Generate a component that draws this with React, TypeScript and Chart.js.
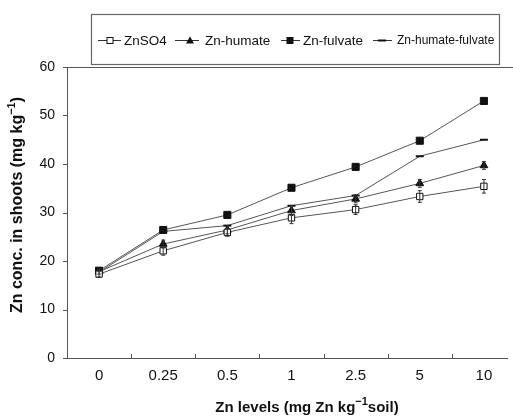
import React, { useEffect, useRef } from 'react';
import { Chart, registerables } from 'chart.js';
Chart.register(...registerables);

const levels = ['0', '0.25', '0.5', '1', '2.5', '5', '10'];
const znso4 = [17.3, 22.1, 25.9, 28.9, 30.6, 33.3, 35.4];
const humate = [17.8, 23.5, 26.4, 30.4, 32.8, 36.0, 39.7];
const fulvate = [18.0, 26.4, 29.5, 35.1, 39.4, 44.8, 53.0];
const humFul = [17.7, 26.1, 27.3, 31.4, 33.5, 41.6, 45.0];
const znso4Err = [0.6, 0.9, 0.8, 1.2, 1.0, 1.2, 1.4];
const humateErr = [0.5, 0.8, 0.8, 1.0, 0.8, 0.8, 0.8];
const seriesNames = ['ZnSO4', 'Zn-humate', 'Zn-fulvate', 'Zn-humate-fulvate'];
const yTicks = [0, 10, 20, 30, 40, 50, 60];

const FONT = '"Liberation Sans", Arial, sans-serif';
const LINE = '#555';

function drawMarker(ctx: CanvasRenderingContext2D, style: string, x: number, y: number) {
  ctx.save();
  ctx.fillStyle = '#111';
  ctx.strokeStyle = '#111';
  ctx.lineWidth = 1;
  if (style === 'openSquare') {
    ctx.fillStyle = '#fff';
    ctx.fillRect(x - 3, y - 3, 6, 6);
    ctx.strokeRect(x - 3, y - 3, 6, 6);
  } else if (style === 'square') {
    ctx.fillRect(x - 3.5, y - 3.5, 7, 7);
  } else if (style === 'triangle') {
    ctx.beginPath();
    ctx.moveTo(x, y - 4);
    ctx.lineTo(x + 4, y + 3);
    ctx.lineTo(x - 4, y + 3);
    ctx.closePath();
    ctx.fill();
  } else if (style === 'dash') {
    ctx.lineWidth = 2;
    ctx.beginPath();
    ctx.moveTo(x - 4, y);
    ctx.lineTo(x + 4, y);
    ctx.stroke();
  }
  ctx.restore();
}

type Part = { t: string; sup?: boolean };
function drawRich(ctx: CanvasRenderingContext2D, parts: Part[], cx: number, cy: number, rot: number, size: number) {
  ctx.save();
  ctx.translate(cx, cy);
  ctx.rotate(rot);
  const big = `bold ${size}px ${FONT}`;
  const small = `bold ${Math.round(size * 0.7)}px ${FONT}`;
  let total = 0;
  parts.forEach((p) => {
    ctx.font = p.sup ? small : big;
    total += ctx.measureText(p.t).width;
  });
  let x = -total / 2;
  ctx.fillStyle = '#111';
  ctx.textBaseline = 'middle';
  ctx.textAlign = 'left';
  parts.forEach((p) => {
    ctx.font = p.sup ? small : big;
    ctx.fillText(p.t, x, p.sup ? -size * 0.4 : 0);
    x += ctx.measureText(p.t).width;
  });
  ctx.restore();
}

const markerStyles = ['openSquare', 'triangle', 'square', 'dash'];
const legendItems = [
  { x0: 98, x1: 121, mx: 110, tx: 124, fs: 13.5 },
  { x0: 175, x1: 199, mx: 190, tx: 205, fs: 13.5 },
  { x0: 281, x1: 300, mx: 290, tx: 303, fs: 13.5 },
  { x0: 373, x1: 392, mx: 382, tx: 397, fs: 12 },
];

const decorPlugin = {
  id: 'decor',
  afterDatasetsDraw(chart: any) {
    const ctx = chart.ctx as CanvasRenderingContext2D;
    const xs = chart.scales.x;
    const ys = chart.scales.y;
    const errs: (number[] | null)[] = [znso4Err, humateErr, null, null];
    ctx.save();
    ctx.strokeStyle = '#333';
    ctx.lineWidth = 1;
    chart.data.datasets.forEach((ds: any, di: number) => {
      const e = errs[di];
      if (!e) return;
      ds.data.forEach((pt: any, i: number) => {
        const px = xs.getPixelForValue(pt.x);
        const y1 = ys.getPixelForValue(pt.y - e[i]);
        const y2 = ys.getPixelForValue(pt.y + e[i]);
        ctx.beginPath();
        ctx.moveTo(px, y1); ctx.lineTo(px, y2);
        ctx.moveTo(px - 2, y1); ctx.lineTo(px + 2, y1);
        ctx.moveTo(px - 2, y2); ctx.lineTo(px + 2, y2);
        ctx.stroke();
      });
    });
    ctx.restore();
  },
  afterDraw(chart: any) {
    const ctx = chart.ctx as CanvasRenderingContext2D;
    const xs = chart.scales.x;
    const ys = chart.scales.y;
    const area = chart.chartArea;
    ctx.save();
    ctx.strokeStyle = LINE;
    ctx.lineWidth = 1;
    ctx.beginPath();
    ctx.moveTo(Math.round(area.left) + 0.5, Math.round(area.top) + 0.5);
    ctx.lineTo(chart.width, Math.round(area.top) + 0.5);
    ctx.stroke();
    for (let i = 0; i < levels.length - 1; i++) {
      const px = Math.round(xs.getPixelForValue(i + 0.5)) + 0.5;
      ctx.beginPath();
      ctx.moveTo(px, area.bottom);
      ctx.lineTo(px, area.bottom - 4);
      ctx.stroke();
    }
    yTicks.forEach((v) => {
      const py = Math.round(ys.getPixelForValue(v)) + 0.5;
      ctx.beginPath();
      ctx.moveTo(area.left, py);
      ctx.lineTo(area.left - 4, py);
      ctx.stroke();
    });
    // legend
    ctx.strokeStyle = '#666';
    ctx.lineWidth = 1.2;
    ctx.strokeRect(91.5, 14.5, 408, 50);
    const ly = 40;
    legendItems.forEach((it, i) => {
      ctx.strokeStyle = '#333';
      ctx.lineWidth = 1;
      ctx.beginPath();
      ctx.moveTo(it.x0, ly + 0.5);
      ctx.lineTo(it.x1, ly + 0.5);
      ctx.stroke();
      drawMarker(ctx, markerStyles[i], it.mx, ly + 0.5);
      ctx.fillStyle = '#111';
      ctx.font = `${it.fs}px ${FONT}`;
      ctx.textBaseline = 'middle';
      ctx.textAlign = 'left';
      ctx.fillText(seriesNames[i], it.tx, ly + 1);
    });
    ctx.restore();
    drawRich(ctx, [{ t: 'Zn levels (mg Zn kg' }, { t: '−1', sup: true }, { t: 'soil)' }], 307, 408, 0, 15);
    drawRich(ctx, [{ t: 'Zn conc. in shoots (mg kg' }, { t: '−1', sup: true }, { t: ')' }], 18, 205, -Math.PI / 2, 16);
  },
};

function mkDs(label: string, vals: number[], style: any, radius: number, fill: string, border: string, bw: number) {
  return {
    label,
    data: vals.map((v, i) => ({ x: i, y: v })),
    borderColor: LINE,
    borderWidth: 1,
    pointStyle: style,
    pointRadius: radius,
    pointBackgroundColor: fill,
    pointBorderColor: border,
    pointBorderWidth: bw,
    tension: 0,
  };
}

export default function App() {
  const ref = useRef<HTMLCanvasElement | null>(null);
  useEffect(() => {
    if (!ref.current) return;
    const chart = new Chart(ref.current, {
      type: 'line',
      data: {
        datasets: [
          mkDs(seriesNames[0], znso4, 'rect', 4.5, '#fff', '#111', 1),
          mkDs(seriesNames[1], humate, 'triangle', 4.5, '#111', '#111', 1),
          mkDs(seriesNames[2], fulvate, 'rect', 5, '#111', '#111', 1),
          mkDs(seriesNames[3], humFul, 'line', 4, '#111', '#111', 2),
        ] as any,
      },
      options: {
        animation: false,
        responsive: true,
        maintainAspectRatio: false,
        layout: { padding: { top: 67, left: 0, right: 0, bottom: 0 } },
        plugins: { legend: { display: false }, tooltip: { enabled: false } },
        scales: {
          x: {
            type: 'linear',
            min: -0.5,
            max: 6.36,
            afterBuildTicks: (s: any) => {
              s.ticks = levels.map((_, i) => ({ value: i }));
            },
            afterFit: (s: any) => {
              s.height = 61;
            },
            ticks: {
              autoSkip: false,
              maxRotation: 0,
              padding: 9,
              color: '#111',
              font: { family: FONT, size: 15 },
              callback: (v: any) => levels[Math.round(Number(v))] ?? '',
            },
            grid: { display: false, drawTicks: false },
            border: { display: true, color: LINE, width: 1 },
          },
          y: {
            min: 0,
            max: 60,
            afterBuildTicks: (s: any) => {
              s.ticks = yTicks.map((v) => ({ value: v }));
            },
            afterFit: (s: any) => {
              s.width = 67;
            },
            ticks: {
              padding: 12,
              color: '#111',
              font: { family: FONT, size: 14 },
            },
            grid: { display: false, drawTicks: false },
            border: { display: true, color: LINE, width: 1 },
          },
        },
      },
      plugins: [decorPlugin],
    });
    return () => chart.destroy();
  }, []);
  return (
    <div style={{ position: 'absolute', left: 0, top: 0, width: 513, height: 419, background: '#fff' }}>
      <canvas ref={ref} />
    </div>
  );
}
